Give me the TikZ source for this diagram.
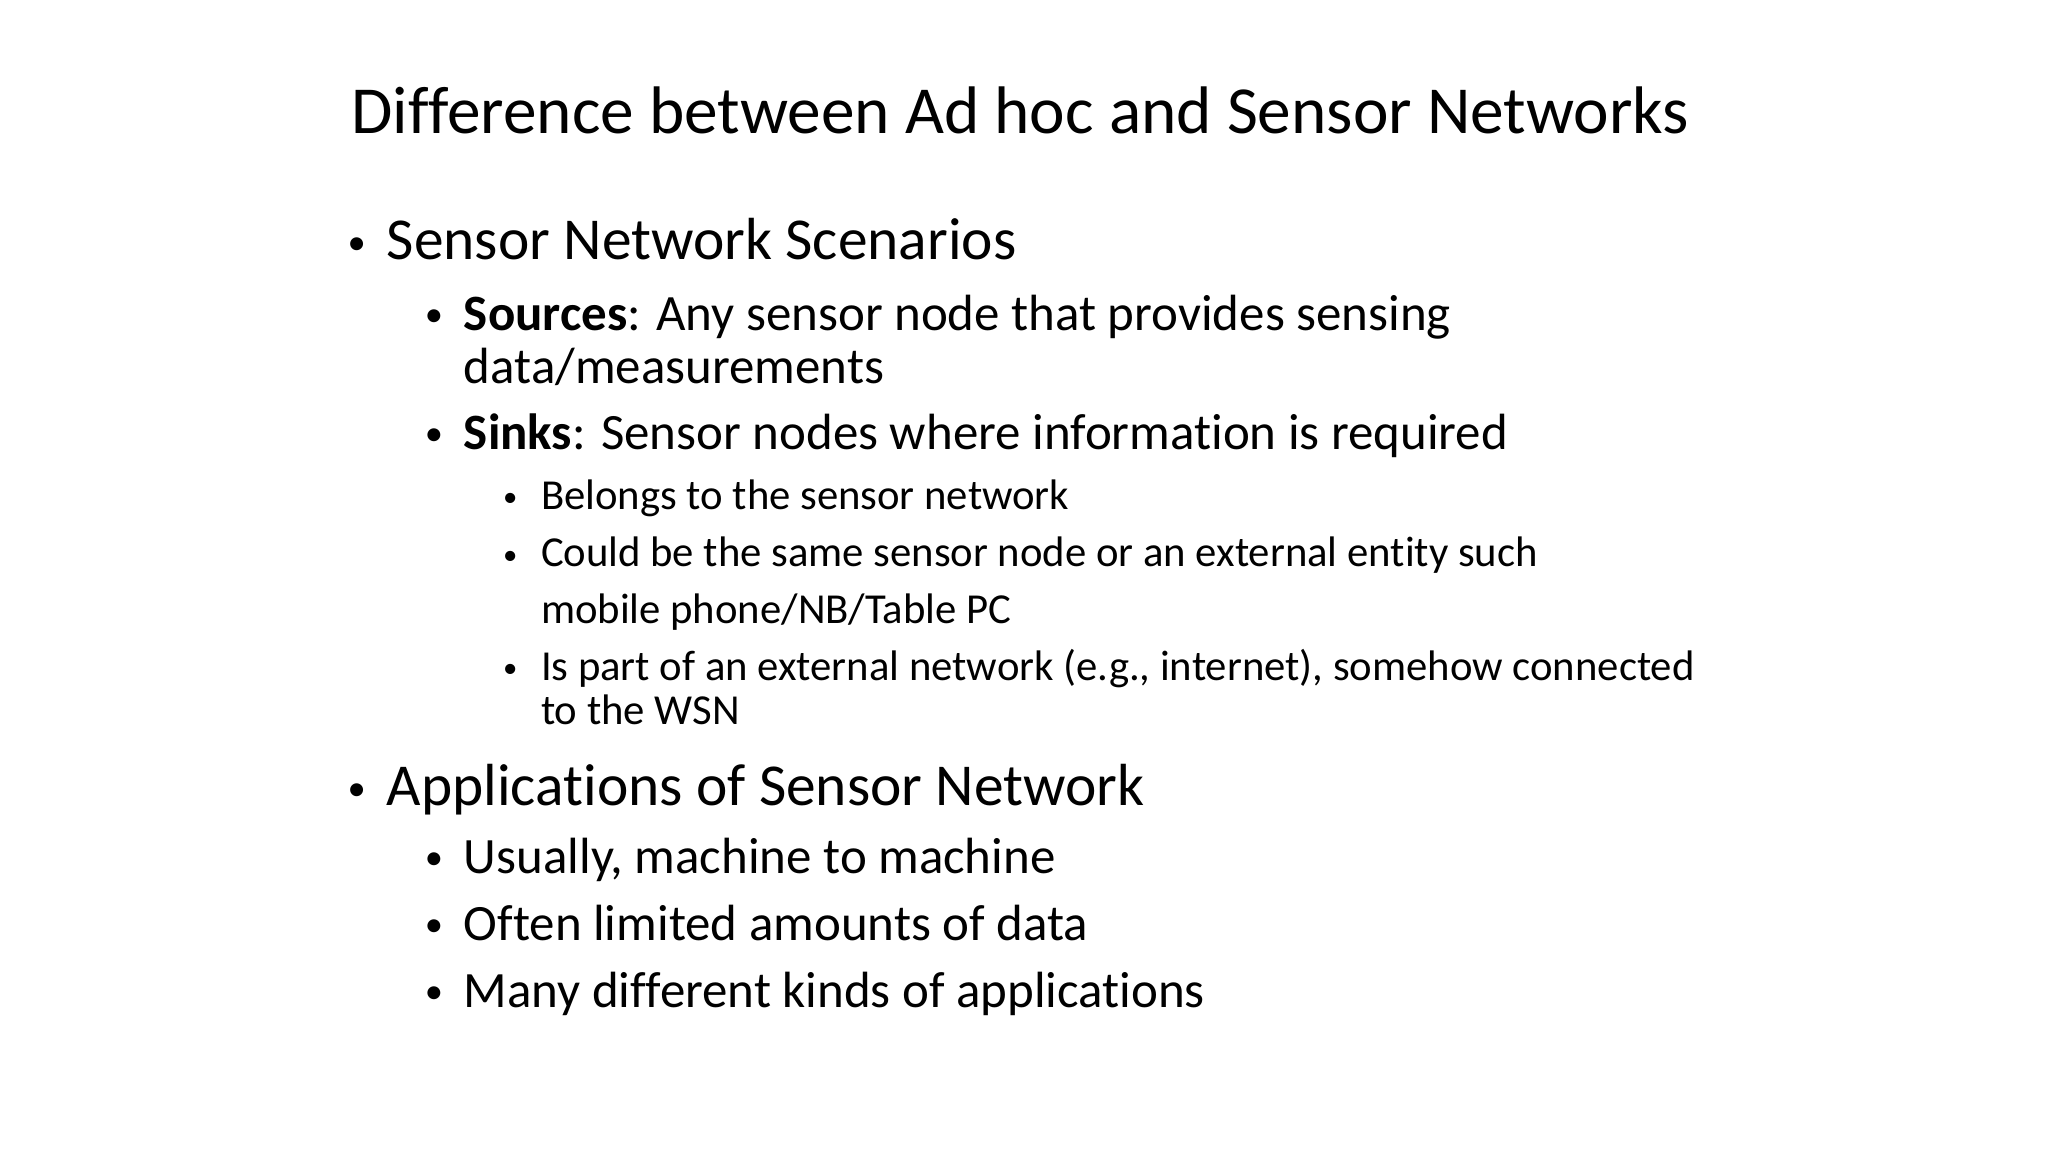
\documentclass[tikz,border=0pt]{standalone}
\usepackage{fontspec}
\setmainfont{Carlito}[Ligatures={NoCommon}]
\begin{document}
\begin{tikzpicture}[x=1pt,y=-1pt,
  t/.style={anchor=base west,inner sep=0pt},
  lone/.style={t,font=\fontsize{45.5}{48}\selectfont},
  ltwo/.style={t,font=\fontsize{39}{42}\selectfont},
  lthree/.style={t,font=\fontsize{32.7}{35}\selectfont},
  bl/.style={t,font=\fontsize{28}{30}\selectfont},
  bs/.style={t,font=\fontsize{22}{24}\selectfont}]
\useasboundingbox[fill=white] (0,0) rectangle (1568,882);
\node[t,font=\fontsize{51.5}{54}\selectfont] (title) at (269,102) {Difference between Ad hoc and Sensor Networks};
\node[bl] (b1) at (266,195) {•};
\node[lone] (a1) at (296,199) {Sensor Network Scenarios};
\node[bl] (b2) at (325,250) {•};
\node[ltwo] (b2x) at (355,253) {};
\node[ltwo] (a2) at (355,253) {\textbf{Sources}: Any sensor node that provides sensing};
\node[ltwo] (a2b) at (355,294) {data/measurements};
\node[bl] (b3) at (325,341) {•};
\node[ltwo] (a3) at (355,344) {\textbf{Sinks}: Sensor nodes where information is required};
\node[bs] (b4) at (385,388) {•};
\node[lthree] (a4) at (414,390) {Belongs to the sensor network};
\node[bs] (b5) at (385,432) {•};
\node[lthree] (a5) at (414,434) {Could be the same sensor node or an external entity such};
\node[lthree] (a5b) at (414,477) {mobile phone/NB/Table PC};
\node[bs] (b6) at (385,519) {•};
\node[lthree] (a6) at (414,521) {Is part of an external network (e.g., internet), somehow connected};
\node[lthree] (a6b) at (414,555) {to the WSN};
\node[bl] (b7) at (266,613) {•};
\node[lone] (a7) at (296,617) {Applications of Sensor Network};
\node[bl] (b8) at (325,666) {•};
\node[ltwo] (a8) at (355,669) {Usually, machine to machine};
\node[bl] (b9) at (325,717) {•};
\node[ltwo] (a9) at (355,720) {Often limited amounts of data};
\node[bl] (b10) at (325,768) {•};
\node[ltwo] (a10) at (355,771) {Many different kinds of applications};
\end{tikzpicture}
\end{document}
